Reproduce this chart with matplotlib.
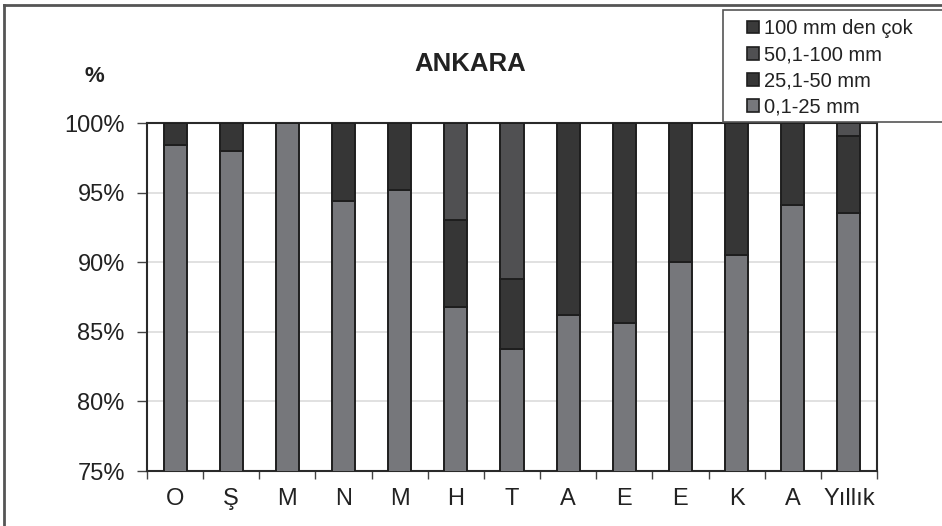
import numpy as np
import matplotlib
matplotlib.use("Agg")
import matplotlib.pyplot as plt
from matplotlib.patches import Patch, Rectangle
from matplotlib.lines import Line2D
from matplotlib.ticker import FuncFormatter

plt.rcParams['font.family'] = ['Liberation Sans', 'DejaVu Sans']

# data (percent of rainy days per class)
months = ['O', 'Ş', 'M', 'N', 'M', 'H', 'T', 'A', 'E', 'E', 'K', 'A', 'Yıllık']
p_0_25 = [98.4, 98.0, 100.0, 94.4, 95.2, 86.8, 83.8, 86.2, 85.6, 90.0, 90.5, 94.1, 93.5]
p_25_50 = [1.6, 2.0, 0.0, 5.6, 4.8, 6.2, 5.0, 13.8, 14.4, 10.0, 9.5, 5.9, 5.6]
p_50_100 = [0.0, 0.0, 0.0, 0.0, 0.0, 7.0, 11.2, 0.0, 0.0, 0.0, 0.0, 0.0, 0.9]
p_100 = [0.0] * 13
series_labels = ['0,1-25 mm', '25,1-50 mm', '50,1-100 mm', '100 mm den çok']
colors = ['#76777b', '#363636', '#505052', '#3a3a3a']

fig = plt.figure(figsize=(9.42, 5.26), dpi=100)
ax = fig.add_axes([147 / 942, 1 - 471 / 526, 730 / 942, 348 / 526])

x = np.arange(len(months))
bottom = np.zeros(len(months))
for vals, col in zip([p_0_25, p_25_50, p_50_100, p_100], colors):
    v = np.array(vals)
    ax.bar(x, v, bottom=bottom, width=0.41, color=col, edgecolor='#1e1e1e',
           linewidth=1.4, zorder=3)
    bottom += v

ax.set_ylim(75, 100)
ax.set_xlim(-0.5, len(months) - 0.5)
ax.set_yticks([75, 80, 85, 90, 95, 100])
ax.yaxis.set_major_formatter(FuncFormatter(lambda v, p: f'{v:.0f}%'))
ax.grid(axis='y', color='#dcdcdc', linewidth=1.2, zorder=0)
ax.tick_params(axis='y', labelsize=17, length=7, width=1, color='#444', pad=9,
               labelcolor='#222')

# category labels centred, tick marks between categories
ax.set_xticks(x)
ax.set_xticklabels(months, fontsize=17, color='#222')
ax.tick_params(axis='x', length=0, pad=12)
ax.set_xticks(np.arange(-0.5, len(months)), minor=True)
ax.tick_params(axis='x', which='minor', length=6, width=1, color='#444')
for s in ax.spines.values():
    s.set_color('#2a2a2a')
    s.set_linewidth(1.5)

fig.text(470 / 942, 1 - 64 / 526, 'ANKARA', fontsize=18.5, fontweight='bold',
         ha='center', va='center', color='#222')
fig.text(94 / 942, 1 - 76 / 526, '%', fontsize=16, fontweight='bold',
         ha='center', va='center', color='#222')

# outer frame (top and left edges visible)
fig.add_artist(Line2D([4 / 942, 4 / 942], [0, 1 - 5 / 526], color='#555',
                      linewidth=2, transform=fig.transFigure))
fig.add_artist(Line2D([4 / 942, 1], [1 - 5 / 526, 1 - 5 / 526], color='#555',
                      linewidth=2, transform=fig.transFigure))

# legend box runs past the right edge
fig.add_artist(Rectangle((723 / 942, 1 - 122 / 526), 230 / 942, 112 / 526,
                         transform=fig.transFigure, facecolor='white',
                         edgecolor='#555', linewidth=1.2, zorder=5))
handles = [Patch(facecolor=c, edgecolor='#1e1e1e', linewidth=1.2) for c in colors]
leg = fig.legend(handles[::-1], series_labels[::-1], loc='upper left',
                 bbox_to_anchor=(737 / 942, 1 - 9 / 526), frameon=False,
                 fontsize=14.5, handlelength=0.6, handleheight=0.6,
                 handletextpad=0.22, labelspacing=0.36, borderpad=0.0)
for t in leg.get_texts():
    t.set_color('#222')
leg.set_zorder(6)

fig.savefig('out.png', dpi=100)
